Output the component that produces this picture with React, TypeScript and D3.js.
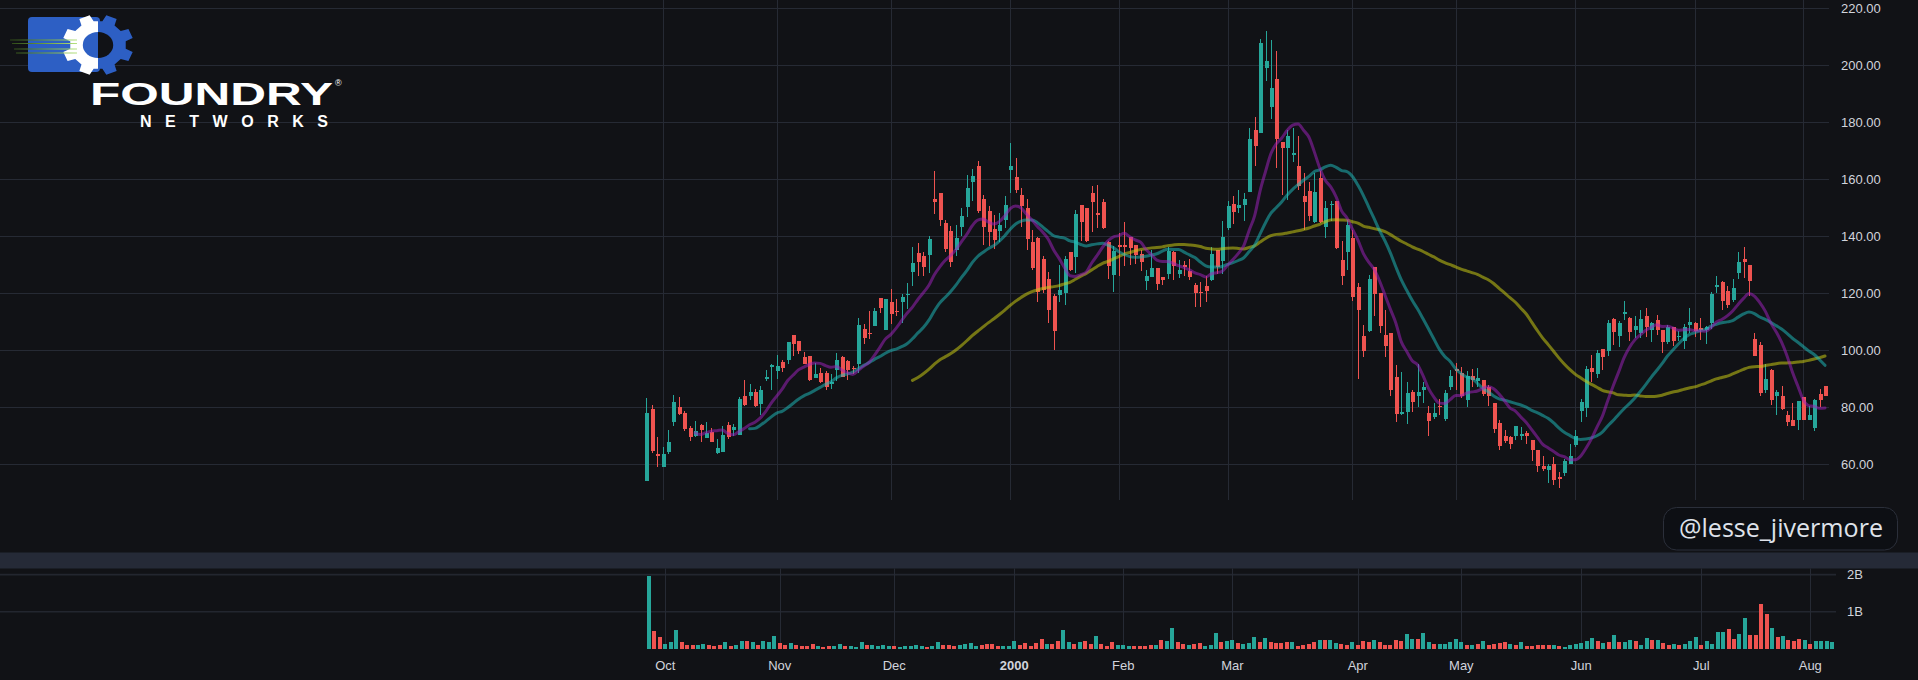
import React from 'react';
import * as d3 from 'd3';

// Daily OHLC, Sep 28 1999 .. Aug 7 2000 (split-adjusted)
const opens = [
  54.2, 79.4, 63.6, 58.8, 64.3, 74.6, 79.9, 78.0, 72.6, 69.7,
  73.8, 69.2, 71.3, 63.9, 64.3, 73.7, 72.0, 70.1, 83.9, 84.0,
  85.4, 81.2, 89.8, 93.9, 92.7, 95.9, 96.4, 105.3, 103.2, 97.7,
  97.9, 90.3, 91.9, 91.9, 88.0, 92.9, 97.7, 96.1, 93.8, 95.2,
  107.5, 106.1, 108.5, 118.4, 107.1, 117.0, 113.7, 116.7, 119.2, 127.3,
  134.2, 133.1, 133.2, 153.0, 155.1, 144.7, 141.9, 135.2, 143.3, 150.1,
  158.8, 164.7, 153.0, 148.9, 142.6, 141.6, 145.5, 163.0, 160.8, 154.4,
  149.8, 137.9, 139.2, 132.0, 124.9, 119.1, 119.2, 120.0, 134.4, 132.5,
  150.9, 149.9, 155.1, 148.1, 152.0, 138.0, 126.2, 136.8, 136.8, 139.8,
  136.8, 133.7, 124.1, 125.7, 128.9, 125.7, 126.5, 134.4, 126.5, 129.9,
  127.8, 122.9, 120.5, 122.6, 124.7, 135.2, 131.1, 142.9, 151.3, 149.7,
  151.0, 155.6, 177.3, 176.0, 198.8, 185.1, 195.1, 173.0, 170.8, 168.3,
  164.7, 154.2, 155.9, 144.9, 160.5, 143.2, 150.8, 152.4, 131.7, 134.3,
  139.4, 122.2, 105.0, 106.8, 129.2, 120.1, 105.4, 106.0, 90.6, 77.5,
  78.1, 85.4, 83.7, 86.1, 77.9, 76.5, 80.2, 75.8, 86.9, 93.3,
  91.9, 82.6, 91.0, 89.0, 89.6, 86.9, 81.4, 74.4, 69.7, 69.4,
  70.0, 70.0, 70.9, 68.5, 65.0, 59.2, 58.0, 60.1, 55.3, 56.8,
  59.9, 66.8, 78.7, 79.5, 93.7, 91.7, 100.5, 99.5, 111.0, 104.8,
  112.7, 111.1, 106.9, 106.0, 112.0, 107.1, 110.6, 107.1, 102.9, 108.1,
  104.4, 103.0, 108.9, 109.5, 107.7, 106.9, 109.5, 122.1, 123.7, 120.8,
  117.7, 127.0, 132.0, 129.9, 104.0, 101.9, 86.1, 93.1, 84.0, 83.7,
  77.3, 75.3, 75.6, 83.5, 75.6, 72.6, 84.7, 87.3,
];

const highs = [
  83.2, 80.8, 69.5, 65.8, 72.0, 84.3, 83.5, 78.7, 73.3, 75.2,
  74.2, 74.9, 72.6, 68.9, 73.2, 74.7, 74.2, 83.6, 89.6, 88.1,
  86.4, 87.4, 93.1, 95.2, 98.4, 96.6, 102.8, 105.3, 103.2, 99.4,
  97.9, 95.4, 93.7, 92.7, 91.7, 99.1, 97.9, 96.4, 94.5, 111.2,
  109.2, 113.8, 114.9, 118.4, 118.0, 121.5, 118.0, 119.8, 123.5, 136.1,
  137.5, 134.5, 140.0, 162.9, 155.1, 145.5, 143.4, 143.9, 149.8, 161.5,
  163.6, 166.3, 154.5, 150.6, 147.5, 148.1, 154.0, 172.6, 167.4, 156.8,
  153.0, 142.2, 139.6, 133.1, 127.4, 119.6, 129.9, 132.9, 134.4, 149.2,
  150.9, 149.9, 157.7, 158.0, 153.0, 138.4, 136.4, 141.1, 145.0, 139.8,
  136.8, 135.2, 128.2, 135.2, 128.9, 125.7, 136.1, 134.7, 131.7, 131.3,
  131.9, 123.5, 123.9, 125.8, 136.1, 135.2, 145.1, 152.2, 153.9, 156.3,
  155.1, 177.9, 181.8, 209.1, 211.9, 208.9, 204.9, 173.0, 177.3, 178.0,
  175.2, 162.1, 159.1, 162.1, 162.7, 152.4, 152.4, 152.4, 138.1, 145.7,
  142.2, 123.5, 108.9, 126.4, 129.2, 120.1, 114.2, 106.0, 94.6, 92.2,
  88.8, 86.1, 95.2, 88.7, 80.5, 81.4, 82.8, 86.1, 93.1, 95.4,
  94.2, 92.5, 93.4, 93.8, 89.6, 87.8, 81.4, 75.6, 72.0, 69.7,
  73.4, 73.0, 71.5, 68.5, 65.0, 62.9, 60.0, 62.5, 57.2, 61.8,
  67.1, 72.0, 82.8, 94.5, 98.4, 100.1, 100.5, 110.6, 111.3, 110.3,
  117.1, 111.6, 112.0, 114.2, 114.7, 109.8, 112.3, 107.1, 108.9, 108.1,
  106.5, 109.2, 114.7, 109.7, 111.2, 108.3, 120.5, 126.1, 124.1, 122.3,
  124.9, 134.5, 136.0, 129.9, 106.0, 102.9, 95.1, 93.3, 86.1, 87.3,
  78.5, 81.4, 82.0, 83.5, 80.2, 82.8, 86.3, 87.3,
];

const lows = [
  53.9, 63.9, 58.8, 58.8, 63.6, 73.2, 77.1, 71.7, 68.2, 69.5,
  67.6, 69.2, 67.6, 63.6, 64.1, 68.7, 69.7, 70.1, 80.5, 82.6,
  79.9, 77.3, 89.0, 86.1, 89.9, 92.2, 95.2, 97.8, 98.5, 95.2,
  89.0, 90.3, 88.5, 85.8, 86.3, 89.0, 90.4, 89.6, 91.6, 92.0,
  102.1, 103.7, 108.3, 112.9, 107.1, 109.0, 111.8, 109.6, 114.5, 122.3,
  126.0, 125.8, 127.0, 147.8, 143.4, 134.5, 129.1, 132.9, 139.9, 146.7,
  152.2, 148.1, 137.0, 136.4, 135.4, 137.8, 142.7, 155.1, 155.1, 143.2,
  135.0, 128.2, 116.7, 120.0, 109.5, 99.9, 116.7, 115.7, 127.6, 127.0,
  138.1, 137.8, 141.3, 142.9, 142.5, 124.9, 120.2, 125.8, 129.4, 129.7,
  130.1, 127.6, 121.2, 125.7, 120.9, 122.7, 124.9, 124.7, 125.3, 125.8,
  124.4, 115.0, 115.1, 116.7, 124.3, 126.7, 126.8, 142.2, 144.3, 148.0,
  145.4, 155.6, 164.4, 176.0, 194.3, 180.9, 163.7, 154.3, 152.7, 166.0,
  156.0, 142.0, 145.1, 144.7, 144.6, 139.3, 145.1, 135.4, 122.7, 128.0,
  117.1, 89.8, 97.6, 106.3, 111.8, 106.0, 97.5, 83.7, 74.6, 77.1,
  73.9, 78.1, 80.0, 81.4, 69.7, 75.9, 77.3, 75.0, 86.1, 86.1,
  83.2, 80.0, 86.9, 86.9, 83.7, 80.2, 70.9, 65.0, 67.4, 65.3,
  68.3, 68.5, 67.1, 60.9, 57.1, 57.4, 53.3, 52.7, 51.6, 55.7,
  59.9, 66.0, 74.6, 76.4, 88.9, 90.1, 92.9, 97.8, 101.9, 101.1,
  110.4, 103.0, 104.3, 104.3, 104.6, 102.7, 105.4, 98.9, 102.2, 101.3,
  103.0, 100.4, 106.0, 104.6, 103.6, 102.2, 107.4, 120.0, 113.9, 114.9,
  116.7, 125.0, 125.3, 118.8, 97.8, 83.7, 84.9, 80.6, 77.1, 79.1,
  73.5, 73.2, 72.0, 75.3, 75.6, 71.7, 80.0, 83.7,
];

const closes = [
  77.9, 64.4, 62.7, 63.6, 67.7, 81.8, 77.7, 72.4, 69.6, 71.7,
  71.8, 70.9, 67.8, 65.6, 70.3, 69.4, 73.1, 82.9, 80.8, 85.3,
  80.5, 86.1, 90.5, 94.9, 94.5, 93.8, 102.8, 102.0, 99.8, 95.2,
  89.6, 91.7, 88.8, 86.9, 88.8, 96.5, 90.4, 92.9, 93.6, 108.9,
  104.1, 105.5, 113.8, 114.6, 117.8, 112.5, 113.2, 118.7, 119.8, 130.6,
  130.8, 129.0, 139.1, 151.8, 145.5, 135.4, 130.8, 139.4, 147.0, 156.8,
  161.1, 148.7, 143.0, 141.3, 138.5, 143.9, 150.9, 164.7, 156.0, 150.4,
  138.8, 128.8, 120.2, 120.9, 113.9, 106.5, 121.2, 132.0, 128.0, 147.8,
  144.8, 138.4, 151.8, 147.3, 142.7, 129.4, 134.9, 136.1, 136.3, 135.7,
  133.5, 130.9, 126.1, 128.9, 123.3, 124.7, 134.9, 129.6, 128.2, 129.2,
  125.5, 120.0, 120.2, 120.8, 133.7, 129.1, 139.6, 150.6, 148.4, 150.9,
  153.0, 174.2, 171.5, 207.7, 201.4, 191.9, 174.2, 170.8, 175.2, 169.1,
  157.4, 151.8, 146.9, 155.6, 144.8, 149.8, 151.1, 135.9, 125.8, 144.0,
  118.5, 113.9, 99.8, 125.0, 119.8, 108.3, 101.3, 86.1, 77.5, 78.2,
  84.9, 81.6, 85.3, 87.1, 75.0, 77.9, 80.0, 84.9, 91.0, 92.7,
  84.0, 91.0, 89.4, 90.2, 84.4, 83.7, 72.4, 66.4, 67.9, 67.1,
  73.2, 70.5, 69.7, 65.0, 59.4, 58.2, 59.4, 54.3, 54.7, 61.2,
  62.9, 69.9, 81.9, 93.3, 92.2, 98.9, 97.7, 109.6, 106.4, 109.6,
  113.2, 106.2, 108.4, 111.0, 108.0, 109.5, 106.9, 102.9, 108.0, 103.2,
  104.8, 108.1, 109.7, 106.7, 107.1, 108.0, 119.6, 122.9, 117.1, 115.9,
  121.9, 131.0, 130.8, 124.1, 97.8, 84.9, 89.9, 82.6, 85.1, 79.3,
  74.6, 73.5, 82.0, 75.6, 77.3, 82.6, 82.6, 84.0,
];

// Volume, billions of shares
const volumes = [
  1.96, 0.48, 0.32, 0.13, 0.19, 0.51, 0.19, 0.11, 0.11, 0.11,
  0.13, 0.11, 0.08, 0.11, 0.19, 0.08, 0.11, 0.22, 0.22, 0.19,
  0.11, 0.22, 0.19, 0.35, 0.16, 0.11, 0.16, 0.11, 0.08, 0.08,
  0.13, 0.08, 0.05, 0.08, 0.08, 0.13, 0.08, 0.08, 0.05, 0.19,
  0.11, 0.11, 0.08, 0.11, 0.08, 0.08, 0.05, 0.08, 0.08, 0.11,
  0.08, 0.05, 0.08, 0.19, 0.11, 0.11, 0.08, 0.11, 0.13, 0.16,
  0.08, 0.11, 0.13, 0.13, 0.08, 0.08, 0.08, 0.22, 0.11, 0.16,
  0.08, 0.16, 0.27, 0.13, 0.13, 0.22, 0.51, 0.19, 0.13, 0.19,
  0.22, 0.13, 0.35, 0.13, 0.08, 0.19, 0.11, 0.11, 0.08, 0.08,
  0.08, 0.08, 0.11, 0.11, 0.24, 0.22, 0.57, 0.19, 0.13, 0.11,
  0.13, 0.16, 0.08, 0.11, 0.43, 0.19, 0.22, 0.24, 0.16, 0.13,
  0.16, 0.32, 0.19, 0.30, 0.19, 0.16, 0.16, 0.19, 0.19, 0.08,
  0.11, 0.13, 0.19, 0.24, 0.24, 0.24, 0.16, 0.13, 0.11, 0.19,
  0.11, 0.22, 0.19, 0.24, 0.19, 0.11, 0.11, 0.24, 0.22, 0.40,
  0.27, 0.27, 0.43, 0.19, 0.13, 0.13, 0.13, 0.19, 0.27, 0.19,
  0.11, 0.11, 0.13, 0.21, 0.11, 0.13, 0.16, 0.19, 0.13, 0.11,
  0.19, 0.08, 0.08, 0.11, 0.11, 0.11, 0.11, 0.08, 0.05, 0.11,
  0.13, 0.16, 0.21, 0.29, 0.21, 0.16, 0.19, 0.38, 0.19, 0.19,
  0.24, 0.21, 0.11, 0.29, 0.24, 0.24, 0.16, 0.11, 0.13, 0.11,
  0.13, 0.21, 0.32, 0.11, 0.21, 0.13, 0.46, 0.46, 0.54, 0.27,
  0.40, 0.83, 0.38, 0.38, 1.21, 0.94, 0.56, 0.32, 0.35, 0.24,
  0.21, 0.27, 0.24, 0.13, 0.21, 0.21, 0.21, 0.19,
];

const firstSession = '1999-09-28';
const holidays = ['1999-11-25', '1999-12-24', '2000-01-17', '2000-02-21', '2000-04-21', '2000-05-29', '2000-07-04'];
const priceTicks = [60, 80, 100, 120, 140, 160, 180, 200, 220];
const volumeTicks = [1, 2];
const maPeriods = [50, 20, 10];
const maColors = ['rgba(200,200,20,0.55)', 'rgba(30,190,190,0.52)', 'rgba(160,35,190,0.52)'];
const monthNames = ['Jan', 'Feb', 'Mar', 'Apr', 'May', 'Jun', 'Jul', 'Aug', 'Sep', 'Oct', 'Nov', 'Dec'];

const W = 1918;
const H = 680;
const UP = '#26a69a';
const DOWN = '#ef5350';
const BG = '#111216';
const GRID = '#262a34';
const TEXT = '#d1d4dc';
const FONT = '"Liberation Sans", Arial, sans-serif';
const LOGO_BLUE = '#2d5fc4';

// weekdays minus exchange holidays
function sessions(start: string, count: number) {
  const out: Date[] = [];
  const d = new Date(start + 'T12:00:00Z');
  const fmt = d3.utcFormat('%Y-%m-%d');
  while (out.length < count) {
    const wd = d.getUTCDay();
    if (wd !== 0 && wd !== 6 && !holidays.includes(fmt(d))) out.push(new Date(d));
    d.setUTCDate(d.getUTCDate() + 1);
  }
  return out;
}

function sma(values: number[], n: number) {
  const out: [number, number][] = [];
  for (let i = n - 1; i < values.length; i++) {
    out.push([i, d3.mean(values.slice(i - n + 1, i + 1)) as number]);
  }
  return out;
}

function gearPath(rOut: number, rIn: number, teeth: number) {
  const step = (2 * Math.PI) / teeth;
  const pts: [number, number][] = [];
  for (let t = 0; t < teeth; t++) {
    const a = -Math.PI / 2 + step / 2 + t * step;
    const tw = step * 0.2;
    const rw = step * 0.3;
    [[rIn, a - rw], [rOut, a - tw], [rOut, a + tw], [rIn, a + rw]].forEach(([r, ang]) =>
      pts.push([r * Math.cos(ang), r * Math.sin(ang)])
    );
  }
  return 'M' + pts.map(p => p[0].toFixed(2) + ',' + p[1].toFixed(2)).join('L') + 'Z';
}

function Logo() {
  const gear = gearPath(30.5, 24, 8);
  const cx = 98;
  const cy = 45;
  return (
    <g>
      <defs>
        <clipPath id="gear-left"><rect x={-60} y={-60} width={60} height={120} /></clipPath>
        <clipPath id="gear-right"><rect x={0} y={-60} width={60} height={120} /></clipPath>
        <linearGradient id="speed" gradientUnits="userSpaceOnUse" x1={10} x2={78} y1={0} y2={0}>
          <stop offset="0" stopColor="#2c4516" />
          <stop offset="0.5" stopColor="#6a9e3c" />
          <stop offset="1" stopColor="#b8e483" />
        </linearGradient>
      </defs>
      <rect x={28} y={17} width={72} height={55} rx={4} fill={LOGO_BLUE} />
      <g transform={'translate(' + cx + ',' + cy + ') scale(1.17,1)'}>
        <path d={gear} fill="#ffffff" clipPath="url(#gear-left)" />
        <path d={gear} fill={LOGO_BLUE} clipPath="url(#gear-right)" />
        <path d="M0,-13 A13,13 0 0 0 0,13 Z" fill={LOGO_BLUE} />
        <path d="M0,-13 A13,13 0 0 1 0,13 Z" fill={BG} />
      </g>
      {[40, 43.5, 49, 53].map((y, i) => (
        <line key={i} x1={10 + i * 2} x2={77} y1={y} y2={y} stroke="url(#speed)" strokeWidth={1} />
      ))}
      <text x={90} y={105} fill="#fff" fontFamily={FONT} fontWeight={900} fontSize={32}
        textLength={243} lengthAdjust="spacingAndGlyphs">FOUNDRY</text>
      <text x={335} y={86} fill="#fff" fontFamily={FONT} fontSize={9}>®</text>
      <text x={140} y={127} fill="#fff" fontFamily={FONT} fontWeight={900} fontSize={16}
        textLength={188} lengthAdjust="spacing">NETWORKS</text>
    </g>
  );
}

export default function App() {
  const n = closes.length;
  const days = sessions(firstSession, n);

  const xMain = d3.scaleLinear().domain([0, n - 1]).range([646.3, 1825]);
  const yPrice = d3.scaleLinear().domain([60, 220]).range([464, 8]);
  const xVol = d3.scaleLinear().domain([3, 213]).range([665.3, 1810.3]);
  const yVol = d3.scaleLinear().domain([0, 2]).range([649, 574.6]);

  // first session of every month after the listing month
  const monthStarts = days
    .map((d, i) => ({ d, i }))
    .filter(({ d, i }) => i > 0 && d.getUTCMonth() !== days[i - 1].getUTCMonth());

  const line = d3.line<[number, number]>()
    .x(d => xMain(d[0]))
    .y(d => yPrice(d[1]))
    .curve(d3.curveMonotoneX);

  const plotRight = 1829;
  const bodyW = 4;
  const volW = 4;

  return (
    <svg width={W} height={H} style={{ position: 'absolute', left: 0, top: 0, display: 'block' }}>
      <rect width={W} height={H} fill={BG} />

      {/* main pane grid */}
      {priceTicks.map(p => (
        <line key={'h' + p} x1={0} x2={plotRight} y1={Math.round(yPrice(p)) + 0.5} y2={Math.round(yPrice(p)) + 0.5}
          stroke={GRID} />
      ))}
      {monthStarts.map(({ i }) => (
        <line key={'v' + i} x1={Math.round(xMain(i)) + 0.5} x2={Math.round(xMain(i)) + 0.5} y1={0} y2={500}
          stroke={GRID} />
      ))}

      {/* candles */}
      {closes.map((c, i) => {
        const o = opens[i];
        const col = c >= o ? UP : DOWN;
        const x = xMain(i);
        const top = yPrice(Math.max(o, c));
        const bot = yPrice(Math.min(o, c));
        return (
          <g key={'c' + i} shapeRendering="crispEdges">
            <rect x={Math.round(x)} y={yPrice(highs[i])} width={1} height={yPrice(lows[i]) - yPrice(highs[i])} fill={col} />
            <rect x={Math.round(x) - 1.5} y={top} width={bodyW} height={Math.max(1, bot - top)} fill={col} />
          </g>
        );
      })}

      {/* moving averages */}
      {maPeriods.map((p, k) => (
        <path key={'ma' + p} d={line(sma(closes, p)) || ''} fill="none" stroke={maColors[k]}
          strokeWidth={3} strokeLinejoin="round" strokeLinecap="round" />
      ))}

      {/* price scale */}
      {priceTicks.map(p => (
        <text key={'pl' + p} x={1841} y={yPrice(p)} dy="0.35em" fill={TEXT} fontFamily={FONT} fontSize={13}>
          {p.toFixed(2)}
        </text>
      ))}

      {/* pane separator */}
      <rect x={0} y={552.5} width={W} height={16} fill="#252a37" />

      {/* volume pane */}
      {volumeTicks.map(v => (
        <line key={'vg' + v} x1={0} x2={1836} y1={yVol(v)} y2={yVol(v)} stroke="#23262f" strokeWidth={1.6} />
      ))}
      {monthStarts.map(({ i }) => (
        <line key={'vv' + i} x1={Math.round(xVol(i)) + 0.5} x2={Math.round(xVol(i)) + 0.5} y1={568.5} y2={649}
          stroke={GRID} />
      ))}
      {volumes.map((v, i) => {
        const up = i === 0 ? closes[0] >= opens[0] : closes[i] >= closes[i - 1];
        return (
          <rect key={'vb' + i} x={xVol(i) - volW / 2} y={yVol(v)} width={volW} height={yVol(0) - yVol(v)}
            fill={up ? UP : DOWN} shapeRendering="crispEdges" />
        );
      })}
      {volumeTicks.map(v => (
        <text key={'vl' + v} x={1847} y={yVol(v)} dy="0.35em" fill={TEXT} fontFamily={FONT} fontSize={13}>
          {v + 'B'}
        </text>
      ))}

      {/* time axis */}
      {monthStarts.map(({ d, i }) => {
        const jan = d.getUTCMonth() === 0;
        return (
          <text key={'t' + i} x={xVol(i)} y={665} dy="0.35em" textAnchor="middle" fill={TEXT} fontFamily={FONT}
            fontSize={13} fontWeight={jan ? 700 : 400}>
            {jan ? String(d.getUTCFullYear()) : monthNames[d.getUTCMonth()]}
          </text>
        );
      })}

      <Logo />

      {/* watermark */}
      <rect x={1663.5} y={507.5} width={234} height={42.5} rx={13} fill="#0d0f14" stroke="#2b2f3a" />
      <text x={1679} y={537} fill="#dfe2ea" fontFamily='"Open Sans", sans-serif' fontSize={25}
        textLength={204} lengthAdjust="spacingAndGlyphs">@lesse_jivermore</text>
    </svg>
  );
}
